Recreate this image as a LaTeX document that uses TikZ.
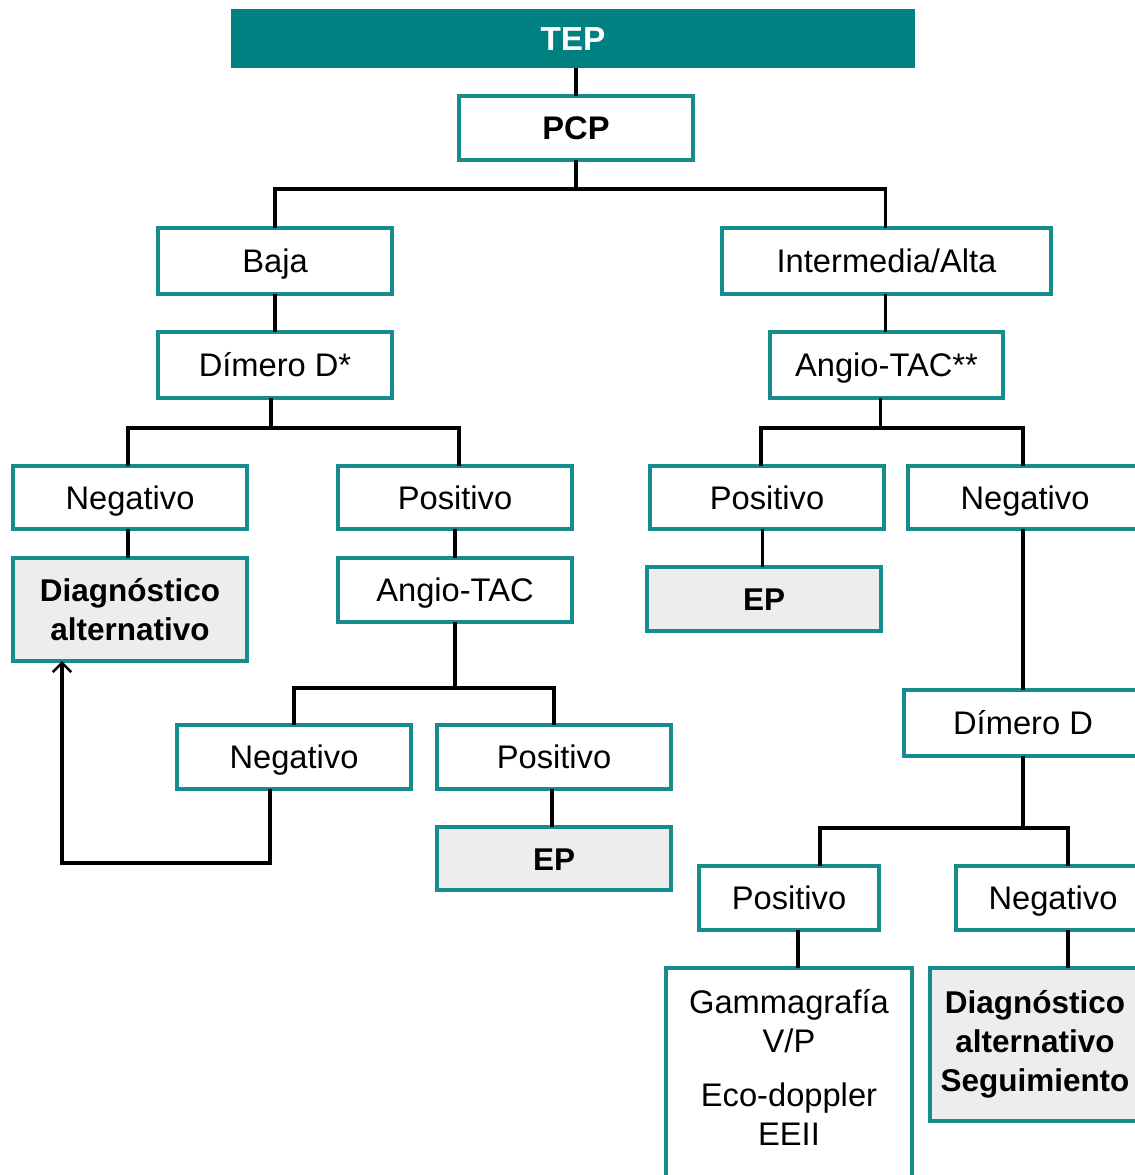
\documentclass[tikz,border=0pt]{standalone}
\usepackage{fontspec}
\setmainfont{Liberation Sans}
\usetikzlibrary{arrows.meta}
\definecolor{tealfill}{RGB}{0,128,128}
\definecolor{tealline}{RGB}{22,140,140}
\definecolor{grayfill}{RGB}{236,238,238}
\newcommand{\bx}[7]{\node[#6, minimum width={(#4-#2)*0.75pt}, minimum height={(#5-#3)*0.75pt}] (#1) at ({(#2+#4)/2},{(#3+#5)/2}) {#7};}
\begin{document}
\begin{tikzpicture}[x=0.75pt,y=-0.75pt,
  base/.style={rectangle, inner sep=0pt, outer sep=0pt, align=center, font=\fontsize{24.5}{29.25}\selectfont},
  one/.style={text height=17.5pt, text depth=0pt},
  box/.style={base, draw=tealline, line width=2.3pt, fill=white},
  res/.style={box, fill=grayfill, font=\fontsize{23.6}{29.25}\selectfont\bfseries},
  bbox/.style={box, font=\fontsize{24.5}{29.25}\selectfont\bfseries},
  head/.style={base, fill=tealfill, text=white, font=\fontsize{25}{30}\selectfont\bfseries},
  conn/.style={draw=black, line width=2.4pt},
  arr/.style={-{Straight Barb[length=7pt,width=14pt,line width=1.9pt]}},
]
\useasboundingbox (0,0) rectangle (1135,1175);
\clip (0,0) rectangle (1135,1175);
\fill[white] (0,0) rectangle (1135,1175);

\bx{TEP}{231}{9}{915}{68}{head,one}{TEP}
\bx{PCP}{459}{96}{693}{160}{bbox,one}{PCP}
\bx{Baja}{158}{228}{392}{294}{box,one}{Baja}
\bx{IA}{722}{228}{1051}{294}{box,one}{Intermedia/Alta}
\bx{DD1}{158}{332}{392}{398}{box,one}{Dímero D*}
\bx{AT1}{770}{332}{1003}{398}{box,one}{Angio-TAC**}
\bx{NegA}{13}{466}{247}{529}{box,one}{Negativo}
\bx{PosA}{338}{466}{572}{529}{box,one}{Positivo}
\bx{PosB}{650}{466}{884}{529}{box,one}{Positivo}
\bx{NegB}{908}{466}{1142}{529}{box,one}{Negativo}
\bx{DA1}{13}{558}{247}{661}{res}{Diagnóstico\\alternativo}
\bx{AT2}{338}{558}{572}{622}{box,one}{Angio-TAC}
\bx{EP1}{647}{567}{881}{631}{res,one}{EP}
\bx{DD2}{904}{690}{1142}{756}{box,one}{Dímero D}
\bx{NegC}{177}{725}{411}{789}{box,one}{Negativo}
\bx{PosC}{437}{725}{671}{789}{box,one}{Positivo}
\bx{EP2}{437}{827}{671}{890}{res,one}{EP}
\bx{PosD}{699}{866}{879}{930}{box,one}{Positivo}
\bx{NegD}{956}{866}{1150}{930}{box,one}{Negativo}
\bx{GV}{666}{968}{912}{1167}{base}{Gammagrafía\\V/P\\[11pt]Eco-doppler\\EEII}
\draw[tealline, line width=2.3pt] (GV.north west) rectangle ([yshift=-30pt]GV.south east);
\bx{DA2}{930}{968}{1140}{1121}{res}{Diagnóstico\\alternativo\\Seguimiento}

\draw[conn] (PCP.north |- TEP.south) -- (PCP.north);
\coordinate (j1) at (576,189);
\draw[conn] (PCP.south) -- (j1);
\draw[conn] (Baja.north) |- (j1) -| ([xshift=-1pt]IA.north);
\draw[conn] (Baja.south) -- (DD1.north);
\draw[conn] ([xshift=-1pt]IA.south) -- ([xshift=-1pt]AT1.north);

\draw[conn] ([xshift=-3pt]DD1.south) -- ++(0,30) coordinate (j2);
\draw[conn] ([xshift=-1.5pt]NegA.north) |- (j2) -| ([xshift=3pt]PosA.north);
\draw[conn] (AT1.south) ++(-4.5pt,0) -- ++(0,30) coordinate (j3);
\draw[conn] ([xshift=-4.5pt]PosB.north) |- (j3) -| ([xshift=-1.5pt]NegB.north);

\draw[conn] ([xshift=-1.5pt]NegA.south) -- ([xshift=-1.5pt]NegA.south |- DA1.north);
\draw[conn] (PosA.south) -- (AT2.north);
\draw[conn] (AT2.south) -- ++(0,66) coordinate (j4);
\draw[conn] (NegC.north) |- (j4) -| (PosC.north);
\draw[conn] ([xshift=-3.5pt]PosB.south) -- ([xshift=-3.5pt]PosB.south |- EP1.north);
\draw[conn] ([xshift=-1.5pt]NegB.south) -- ([xshift=-1.5pt]NegB.south |- DD2.north);
\draw[conn, arr] ([xshift=-18pt]NegC.south) -- ++(0,74) -| ([xshift=36.75pt]DA1.south west);
\draw[conn] ([xshift=-1.5pt]PosC.south) -- ([xshift=-1.5pt]PosC.south |- EP2.north);

\draw[conn] (DD2.south) -- ++(0,72) coordinate (j5);
\draw[conn] ([xshift=23.25pt]PosD.north) |- (j5) -| ([xshift=11.25pt]NegD.north);
\draw[conn] ([xshift=6.75pt]PosD.south) -- ([xshift=6.75pt]PosD.south |- GV.north);
\draw[conn] ([xshift=11.25pt]NegD.south) -- ([xshift=11.25pt]NegD.south |- DA2.north);
\end{tikzpicture}
\end{document}
